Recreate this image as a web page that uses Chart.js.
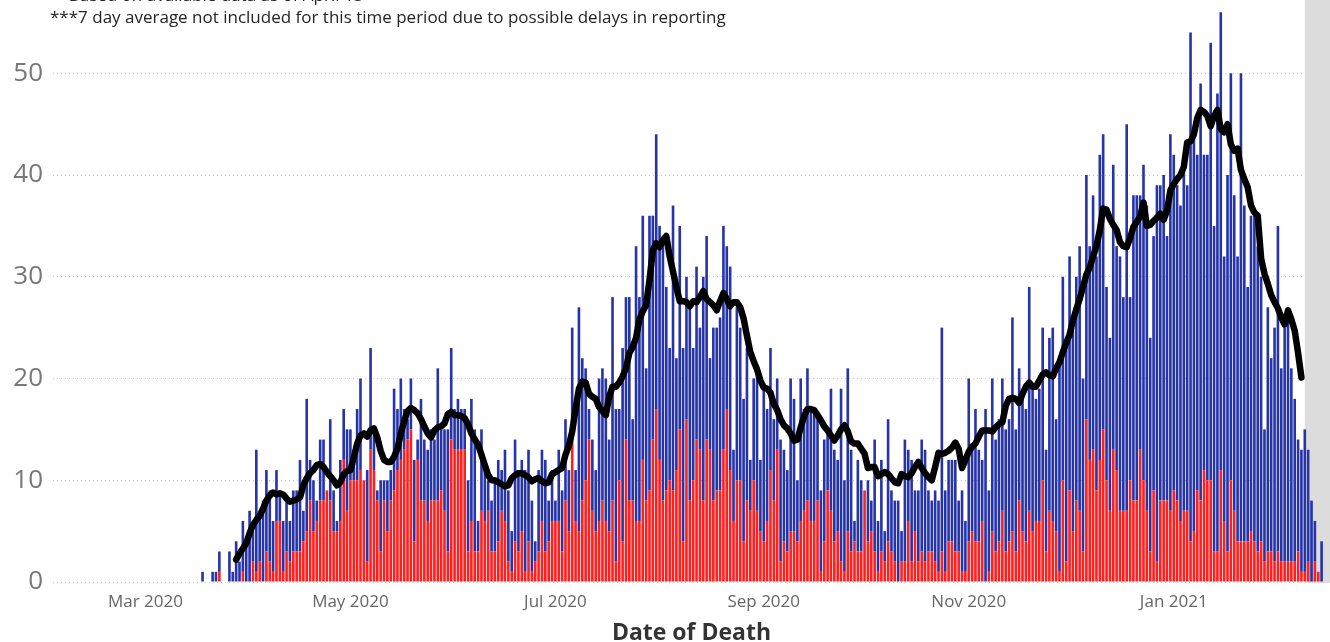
<!DOCTYPE html>
<html><head><meta charset="utf-8">
<script src="https://cdn.jsdelivr.net/npm/chart.js@4.4.0/dist/chart.umd.min.js"></script>
<style>
html,body{margin:0;padding:0;background:#fff;overflow:hidden}
#wrap{position:relative;width:1330px;height:642px;overflow:hidden}
canvas{position:absolute;left:0;top:0}
.note{position:absolute;left:50px;font-family:'Open Sans',sans-serif;font-size:17px;color:#252423;white-space:nowrap;line-height:17px}
</style></head><body>
<div id="wrap"><canvas id="c" width="1330" height="642"></canvas>
<div class="note" style="top:-14px">**Based on available data as of April 13</div>
<div class="note" style="top:8px">***7 day average not included for this time period due to possible delays in reporting</div>
</div>
<script>
const axisStart = '2020-02-03';
const axisDays = 380;
const barStart = '2020-03-18';
const avgStart = '2020-03-28';
const shadeStart = '2021-02-09';
const tickDates = ['2020-03-01','2020-05-01','2020-07-01','2020-09-01','2020-11-01','2021-01-01'];
const tickLabels = ['Mar 2020','May 2020','Jul 2020','Sep 2020','Nov 2020','Jan 2021'];
const yTicks = [0,10,20,30,40,50];

const redDeaths = [
0,0,0,0,0,1,0,0,0,0,
0,0,1,0,0,2,1,2,0,3,
2,1,6,6,1,3,2,3,3,3,
4,5,8,5,6,8,8,9,8,5,
5,6,12,7,10,10,10,11,10,2,
13,11,8,3,8,5,8,9,11,12,
13,14,15,4,12,8,8,6,8,8,
8,9,7,3,14,13,13,13,13,3,
6,3,3,7,6,7,3,3,4,7,
6,2,1,4,3,5,1,4,1,2,
3,6,3,4,6,6,6,3,8,5,
15,6,5,8,10,14,7,5,6,8,
6,5,8,2,10,4,14,8,8,6,
6,12,8,9,14,17,12,8,9,10,
9,11,15,4,16,8,10,14,13,8,
14,13,8,9,9,13,17,11,6,10,
10,4,8,7,10,7,5,4,6,11,
8,13,2,4,3,5,5,4,6,7,
8,6,6,8,1,4,9,7,4,5,
2,1,5,3,4,3,3,9,4,5,
3,1,3,2,4,3,2,0,2,2,
6,2,5,2,3,2,3,3,2,1,
3,1,4,4,3,3,1,1,4,5,
4,4,6,0,1,5,3,4,7,3,
4,5,3,8,5,4,7,5,6,6,
10,3,7,6,5,1,10,2,9,5,
8,7,3,16,12,13,9,12,15,10,
7,13,11,7,7,7,10,8,8,13,
10,7,3,9,2,8,8,8,7,9,
8,6,7,7,4,5,9,8,11,10,
10,3,3,11,6,3,10,7,4,4,
4,4,5,4,3,4,2,3,3,2,
3,2,2,2,2,2,3,1,1,2,
0,2,1,0
];

const blueDeaths = [
1,0,0,1,1,2,0,0,3,1,
4,2,5,4,7,3,12,5,8,8,
7,5,5,3,5,5,4,6,6,9,
3,13,4,5,2,6,6,0,8,4,
1,6,5,8,5,3,7,9,0,9,
10,4,1,7,2,5,3,10,6,8,
4,2,5,8,2,10,6,7,7,6,
13,6,8,12,9,4,5,4,4,7,
12,12,3,8,5,3,5,7,8,4,
7,7,4,10,8,7,10,9,7,2,
8,7,9,4,5,2,7,6,8,6,
10,5,22,14,11,3,7,6,14,13,
14,9,20,15,7,19,14,20,8,27,
22,24,13,27,22,27,23,26,20,13,
28,11,20,19,14,19,13,17,12,22,
20,9,17,16,17,22,16,20,7,17,
15,14,15,5,10,14,7,15,11,12,
8,7,12,9,8,15,13,6,14,10,
13,11,11,8,8,10,6,12,9,7,
17,9,16,10,2,9,7,0,6,3,
11,5,9,3,12,6,6,8,3,12,
7,10,4,7,11,11,6,5,7,7,
22,8,8,8,9,5,8,5,16,8,
13,9,6,17,8,15,11,12,13,12,
12,21,12,13,13,13,22,14,12,13,
15,10,17,19,11,21,20,22,23,20,
22,26,17,24,21,25,23,30,29,19,
17,28,22,25,21,38,18,30,30,25,
31,30,21,25,37,31,32,26,37,33,
31,31,34,32,50,39,33,41,31,32,
43,32,45,45,26,37,40,31,28,46,
33,25,31,32,30,26,13,24,19,23,
32,19,23,25,19,16,11,12,14,11,
8,4,0,4
];

const avg7 = [
2.2,2.8,3.3,3.8,4.8,5.6,6.1,6.5,7.2,8.0,
8.5,8.8,8.6,8.7,8.6,8.2,7.9,8.0,8.1,8.3,
9.5,10.2,10.7,11.0,11.5,11.6,11.3,10.8,10.4,10.0,
9.5,9.8,10.6,10.9,11.0,12.2,13.6,14.4,14.6,14.3,
14.9,15.1,14.2,12.9,12.0,11.8,11.8,12.3,13.1,14.6,
15.8,16.8,17.1,16.9,16.6,16.0,15.3,14.6,14.2,14.9,
15.2,15.3,15.6,16.5,16.7,16.4,16.4,16.3,16.1,15.5,
14.6,14.0,13.5,12.5,11.5,10.5,10.0,10.0,9.8,9.6,
9.4,9.5,10.2,10.5,10.7,10.7,10.5,10.3,9.9,10.1,
10.2,9.9,9.7,9.8,10.6,10.8,11.0,11.2,12.5,13.4,
14.8,17.0,19.0,19.7,19.6,18.5,18.2,18.0,17.2,16.8,
16.4,18.2,19.2,19.2,19.6,20.2,21.0,22.5,23.1,24.0,
25.8,26.6,27.2,29.7,32.6,33.3,32.9,33.6,34.0,32.0,
30.5,29.0,27.6,27.6,27.5,27.1,27.6,27.5,28.0,28.6,
27.8,27.5,27.2,26.7,27.6,28.4,27.8,27.1,27.5,27.5,
27.0,25.9,24.2,22.6,21.7,20.9,19.8,19.1,19.0,18.6,
17.5,16.9,16.0,15.4,15.1,14.6,13.9,14.0,15.2,16.3,
17.0,17.0,16.9,16.4,15.9,15.3,14.9,14.4,13.9,14.4,
15.0,15.4,14.8,13.8,13.6,13.6,13.1,12.6,11.2,11.3,
11.3,10.4,10.6,10.8,10.6,10.2,9.8,9.7,10.6,10.4,
10.3,10.7,11.3,11.8,11.2,10.7,10.3,10.0,11.3,12.7,
12.6,12.7,12.9,13.2,13.7,13.1,11.2,12.0,12.8,13.3,
13.6,14.3,14.9,14.9,14.9,14.8,15.2,15.5,15.7,17.3,
18.0,18.1,18.0,17.6,18.5,19.2,19.6,19.2,19.2,19.8,
20.4,20.6,20.3,20.2,21.0,21.6,22.6,23.5,24.3,25.7,
26.8,27.8,29.0,30.2,30.9,32.0,33.0,34.6,36.7,36.6,
35.7,35.1,34.6,33.4,33.0,32.9,33.8,34.9,35.4,35.9,
37.3,35.0,35.1,35.5,35.8,36.2,35.6,36.5,38.5,39.1,
39.6,40.0,40.8,43.2,43.3,44.0,45.6,46.4,46.2,45.8,
44.8,45.8,46.4,44.5,44.2,45.0,43.0,42.4,42.6,40.5,
39.6,38.8,37.0,36.3,36.0,31.8,30.3,29.3,28.2,27.5,
26.9,26.0,25.3,26.7,25.8,24.7,22.5,20.1
];

function iso(d){ return d.toISOString().slice(0,10); }
const categories = [];
const t0 = Date.parse(axisStart + 'T00:00:00Z');
for (let i = 0; i < axisDays; i++) categories.push(iso(new Date(t0 + i*86400000)));
function align(start, vals){
  const out = new Array(categories.length).fill(null);
  const k = categories.indexOf(start);
  vals.forEach((v,i)=>{ out[k+i] = v; });
  return out;
}

const shadePlugin = {
  id: 'shade',
  beforeDatasetsDraw(chart){
    const {ctx, chartArea, scales} = chart;
    const x = scales.x;
    const px = x.getPixelForValue(categories.indexOf(shadeStart));
    ctx.save();
    ctx.fillStyle = '#dcdcdc';
    ctx.fillRect(px, 0, chartArea.right - px, chartArea.bottom + 1);
    ctx.restore();
  }
};

const font = "'Open Sans', 'DejaVu Sans', sans-serif";
new Chart(document.getElementById('c'), {
  type: 'bar',
  data: {
    labels: categories,
    datasets: [
      { type:'line', label:'7 day average', data: align(avgStart, avg7), borderColor:'#000', borderWidth:6.5,
        pointRadius:0, pointHoverRadius:0, borderJoinStyle:'round', borderCapStyle:'round', tension:0,
        stack:'avg', order:0, fill:false },
      { label:'red', data: align(barStart, redDeaths), backgroundColor:'#ff1f1f', stack:'deaths', order:1,
        barPercentage:0.78, categoryPercentage:1 },
      { label:'blue', data: align(barStart, blueDeaths), backgroundColor:'#2634a8', stack:'deaths', order:2,
        barPercentage:0.78, categoryPercentage:1 }
    ]
  },
  options: {
    responsive:false, animation:false, devicePixelRatio:1,
    layout:{ padding:0 },
    plugins:{ legend:{display:false}, tooltip:{enabled:false}, title:{display:false} },
    scales:{
      x:{
        stacked:true, offset:true,
        afterFit(s){ s.height = 60; s.paddingLeft = 0; s.paddingRight = 0; },
        grid:{ display:false, drawTicks:false },
        border:{ display:false },
        ticks:{ autoSkip:false, maxRotation:0, minRotation:0, padding:10, color:'#666',
          font:{ family:font, size:17 },
          callback(v, i){ const k = tickDates.indexOf(categories[i]); return k >= 0 ? tickLabels[k] : ''; } },
        title:{ display:true, text:'Date of Death', color:'#333', font:{ family:font, size:23, weight:'bold' },
          padding:{ top:0, bottom:-5 } }
      },
      y:{
        stacked:true, min:0, max:57.2,
        afterBuildTicks(s){ s.ticks = yTicks.map(v => ({ value:v })); },
        afterFit(s){ s.width = 53; s.paddingTop = 0; s.paddingBottom = 0; },
        ticks:{ padding:10, color:'#777', font:{ family:font, size:26 } },
        grid:{ color:'#c8c8c8', drawTicks:false, lineWidth:1 },
        border:{ display:false, dash:[1,3] }
      }
    }
  },
  plugins:[shadePlugin]
});
</script>
</body></html>
